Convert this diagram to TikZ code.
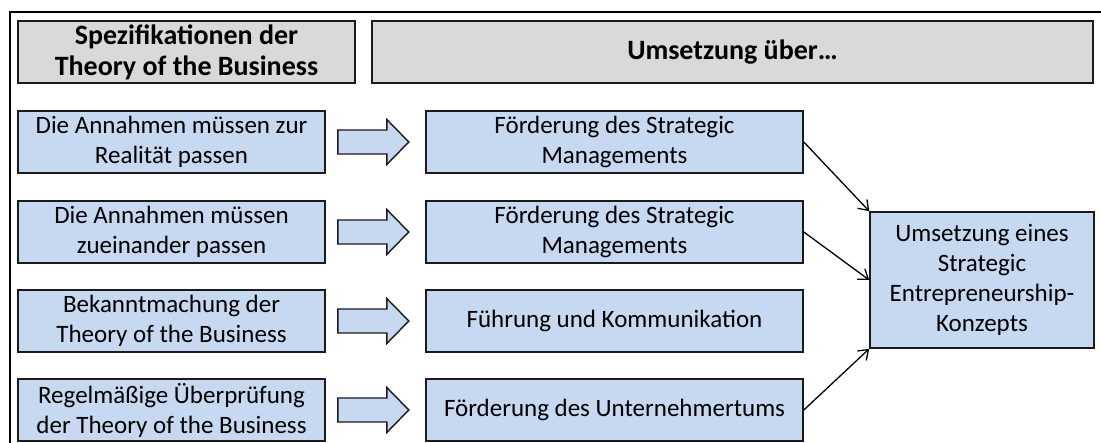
\documentclass[tikz,border=0pt]{standalone}
\usepackage{fontspec}
\setmainfont{Carlito}
\usetikzlibrary{arrows.meta,calc}
\definecolor{boxblue}{HTML}{C6D9F1}
\definecolor{headgray}{HTML}{D9D9D9}
\definecolor{edge}{HTML}{1A1A1A}
\tikzset{
  basebox/.style={draw=edge, line width=1.6pt, inner sep=0pt, align=center, anchor=center},
  headbox/.style={basebox, fill=headgray, minimum height=62pt, font=\fontsize{28}{31}\selectfont\bfseries},
  leftbox/.style={basebox, fill=boxblue, minimum width=307pt, minimum height=62pt, font=\fontsize{25}{30}\selectfont},
  midbox/.style={basebox, fill=boxblue, minimum width=377pt, minimum height=62pt, font=\fontsize{25}{30}\selectfont},
  rightbox/.style={basebox, fill=boxblue, minimum width=224pt, minimum height=136pt, font=\fontsize{25}{30}\selectfont},
  blockarrow/.style={draw=edge, line width=1.4pt, fill=boxblue, line join=miter},
  link/.style={draw=black, line width=1.3pt, -{Straight Barb[length=9pt,width=13pt,line width=1.3pt]}},
}
\begin{document}
\begin{tikzpicture}[x=1pt,y=-1pt]
\useasboundingbox (0,0) rectangle (1101,443);
\clip (0,0) rectangle (1101,443);
\fill[white] (0,0) rectangle (1101,443);
% outer frame
\draw[line width=2.4pt, black] (10,12) rectangle (1130,470);
% headers
\node[headbox, minimum width=337pt] (h1) at (186.5,52) {Spezifikationen der\\Theory of the Business};
\node[headbox, minimum width=721pt] (h2) at (732.5,52) {Umsetzung über…};
% left boxes
\node[leftbox] (l1) at (171.5,142) {Die Annahmen müssen zur\\Realität passen};
\node[leftbox] (l2) at (171.5,232) {Die Annahmen müssen\\zueinander passen};
\node[leftbox] (l3) at (171.5,321) {Bekanntmachung der\\Theory of the Business};
\node[leftbox] (l4) at (171.5,410) {Regelmäßige Überprüfung\\der Theory of the Business};
% middle boxes
\node[midbox] (m1) at (614.5,142) {Förderung des Strategic\\Managements};
\node[midbox] (m2) at (614.5,232) {Förderung des Strategic\\Managements};
\node[midbox] (m3) at (614.5,321) {Führung und Kommunikation};
\node[midbox] (m4) at (614.5,410) {Förderung des Unternehmertums};
% right box
\node[rightbox] (r) at (982,280) {Umsetzung eines\\Strategic\\Entrepreneurship-\\Konzepts};
% block arrows
\foreach \n in {l1,l2,l3,l4}{
  \draw[blockarrow] ($(\n.east)+(12,-12)$) -- ($(\n.east)+(61,-12)$) -- ($(\n.east)+(61,-22.5)$)
    -- ($(\n.east)+(83,0)$) -- ($(\n.east)+(61,22.5)$) -- ($(\n.east)+(61,12)$) -- ($(\n.east)+(12,12)$) -- cycle;
}
% connectors
\draw[link] (m1.east) -- (r.north west);
\draw[link] (m2.east) -- (r.west);
\draw[link] (m4.east) -- (r.south west);
\end{tikzpicture}
\end{document}
